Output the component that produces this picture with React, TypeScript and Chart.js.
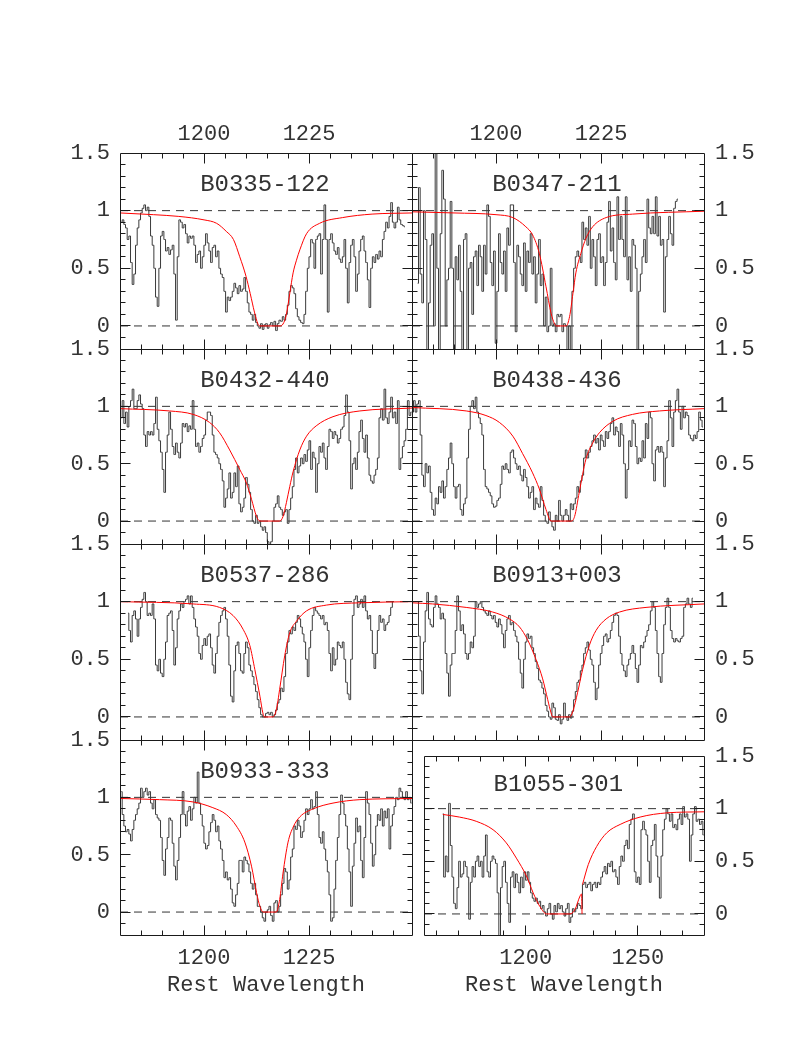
import React, { useEffect, useRef } from 'react';
import { Chart, registerables } from 'chart.js';

Chart.register(...registerables);

// ---------------- styling constants ----------------
const FONT = '"Liberation Mono", "DejaVu Sans Mono", monospace';
const TEXT_COLOR = '#333333';
const FRAME_COLOR = '#1a1a1a';
const SPEC_COLOR = '#3a3a3a';
const FIT_COLOR = '#ff0000';
const DASH_COLOR = '#333333';
const M = 75; // margin around each plot frame inside its canvas

// ---------------- axes ----------------
const Y_RANGE = [-0.2, 1.5];
const Y_LABELS = [0, 0.5, 1, 1.5];
const X_RANGE_NARROW = [1180, 1249.5];
const X_RANGE_WIDE = [1154.6, 1279.5];
const X_LABELS_NARROW = [1200, 1225];
const X_LABELS_WIDE = [1200, 1250];
const REF_LEVELS = [0, 1];
const X_TITLE = 'Rest Wavelength';
const TITLE_X = 1214.5;
const TITLE_Y = 1.17;

// ---------------- names ----------------
const NAMES = ['B0335-122', 'B0347-211', 'B0432-440', 'B0438-436', 'B0537-286', 'B0913+003', 'B0933-333', 'B1055-301'];

// ---------------- spectra (normalised flux on a uniform wavelength grid) ----------------
const S1_START = 1180.32, S1_STEP = 0.397;
const S1_FLUX = [
  0.9, 0.92, 0.88, 0.85, 0.75, 0.78, 0.55, 0.36, 0.45, 0.7,
  0.85, 0.92, 0.98, 1.02, 1.05, 1.0, 1.03, 0.95, 0.78, 0.7,
  0.5, 0.25, 0.17, 0.5, 0.78, 0.82, 0.75, 0.65, 0.68, 0.62,
  0.66, 0.7, 0.45, 0.05, 0.6, 0.92, 0.9, 0.85, 0.88, 0.8,
  0.72, 0.78, 0.76, 0.78, 0.7, 0.55, 0.62, 0.65, 0.5, 0.6,
  0.7, 0.8, 0.72, 0.65, 0.55, 0.68, 0.7, 0.6, 0.65, 0.5,
  0.45, 0.42, 0.3, 0.12, 0.25, 0.22, 0.25, 0.3, 0.37, 0.33,
  0.28, 0.35, 0.3, 0.32, 0.42, 0.3, 0.2, 0.12, 0.1, 0.05,
  0.1, 0.03, 0.0, -0.02, 0.02, -0.03, 0.01, 0.02, -0.02, 0.01,
  0.03, 0.0, 0.04, -0.04, 0.02, 0.05, 0.04, 0.08, 0.05, 0.1,
  0.18, 0.3, 0.35, 0.33, 0.28, 0.15, 0.08, 0.05, 0.03, 0.02,
  0.1, 0.3, 0.5, 0.6, 0.75, 0.72, 0.5, 0.75, 0.78, 0.8,
  0.45, 0.75, 1.05, 0.75, 0.12, 0.75, 0.8, 0.72, 0.65, 0.62,
  0.68, 0.58, 0.55, 0.6, 0.75, 0.5, 0.2, 0.55, 0.7, 0.75,
  0.6, 0.3, 0.45, 0.65, 0.75, 0.78, 0.65, 0.55, 0.4, 0.16,
  0.5, 0.6, 0.55, 0.62, 0.58, 0.65, 0.6, 0.75, 0.82, 0.9,
  0.85, 0.95, 1.07, 0.9, 0.85, 0.9, 1.03, 0.92, 0.88, 0.87,
  0.86,
];
const S2_START = 1181.35, S2_STEP = 0.397;
const S2_FLUX = [
  0.37, 1.2, 0.45, 0.2, 1.0, 0.75, -0.25, 0.2, 0.7, 0.8,
  0.0, 1.6, 0.5, -0.25, 0.8, 1.35, 1.1, 0.0, 0.4, 0.5,
  1.08, 0.5, -0.25, 0.6, 0.4, 0.7, 0.3, -0.25, 0.75, 0.8,
  -0.25, 0.5, 0.55, 0.1, 0.6, 0.65, 0.35, 0.7, 0.6, 0.3,
  0.7, 0.45, 1.05, 0.95, 0.55, 0.35, 0.65, -0.15, 0.3, 0.8,
  0.55, 0.45, 0.65, 0.3, 0.85, 0.7, 1.05, 1.05, 0.55, -0.05,
  0.7, 0.6, 0.45, 0.35, 0.72, 0.3, 0.65, 0.55, 0.8, 0.45,
  0.6, 0.2, 0.45, 0.75, 0.35, 0.45, 0.0, 0.25, -0.05, 0.0,
  0.5, 0.0, 0.02, -0.05, 0.1, 0.08, 0.1, -0.05, 0.02, 0.0,
  -0.25, 0.0, -0.25, 0.3, 0.5, 0.6, 0.65, 0.6, 0.55, 0.9,
  0.75, 0.85, 0.7, 0.95, 0.5, 0.75, 0.6, 0.35, 0.75, 0.8,
  0.55, 0.6, 0.35, 0.55, 0.9, 1.08, 0.65, 0.85, 0.55, 0.4,
  1.12, 0.75, 0.95, 0.75, 0.6, 1.12, 0.4, 0.6, 0.3, 0.75,
  0.7, 0.5, -0.25, 0.3, 0.45, 0.6, 0.75, 0.55, 1.1, 0.85,
  0.8, 0.95, 0.8, 1.12, 0.78, 0.95, 0.7, 0.75, 0.12, 0.6,
  0.75, 0.95, 0.8, 0.7, 1.02, 1.08, 1.1,
];
const S3_START = 1180.32, S3_STEP = 0.397;
const S3_FLUX = [
  0.9, 1.05, 0.85, 0.95, 0.82, 1.0, 1.05, 1.15, 0.98, 0.98,
  1.05, 1.1, 1.02, 0.98, 0.75, 0.65, 0.78, 0.75, 0.78, 0.75,
  0.85, 1.08, 0.8, 0.7, 0.6, 0.45, 0.25, 0.6, 0.75, 0.95,
  0.8, 0.65, 0.58, 0.68, 0.6, 0.55, 0.68, 0.85, 0.82, 0.85,
  0.78, 0.83, 0.8, 1.05, 0.8, 0.65, 0.68, 0.6, 0.65, 0.72,
  0.75, 0.88, 0.95, 0.95, 0.92, 0.75, 0.6, 0.58, 0.55, 0.5,
  0.45, 0.35, 0.12, 0.2, 0.28, 0.42, 0.2, 0.25, 0.42, 0.3,
  0.48, 0.15, 0.08, 0.12, 0.2, 0.38, 0.32, 0.25, 0.1, 0.0,
  -0.02, 0.05, -0.02, 0.0, -0.05, -0.08, -0.05, -0.1, -0.18, -0.25,
  -0.18, 0.0, 0.12, 0.15, 0.22, 0.12, 0.1, 0.05, 0.08, 0.1,
  -0.02, 0.1, 0.2, 0.3, 0.45, 0.55, 0.42, 0.48, 0.55, 0.5,
  0.58, 0.52, 0.62, 0.7, 0.45, 0.6, 0.55, 0.25, 0.5, 0.65,
  0.6, 0.68, 0.55, 0.45, 0.65, 0.8, 0.78, 0.72, 0.78, 0.75,
  0.68, 0.72, 0.8, 0.82, 0.92, 1.1, 0.95, 0.7, 0.28, 0.5,
  0.55, 0.45, 0.6, 0.78, 0.88, 0.72, 0.6, 0.75, 0.55, 0.4,
  0.35, 0.33, 0.4, 0.45, 0.55, 0.9, 0.98, 0.88, 1.15, 0.9,
  0.85, 0.95, 1.08, 0.9, 0.95, 0.85, 1.05, 0.45, 0.55, 0.65,
  0.7, 0.8, 1.05, 0.92, 0.95,
];
const S4_START = 1180.16, S4_STEP = 0.397;
const S4_FLUX = [
  0.95, 1.05, 0.95, 1.02, 1.05, 0.75, 0.4, 0.3, 0.5, 0.42,
  0.48, 0.25, 0.1, 0.05, 0.2, 0.15, 0.3, 0.25, 0.35, 0.2,
  0.3, 0.45, 0.55, 0.68, 0.5, 0.3, 0.2, 0.3, 0.32, 0.1,
  0.05, 0.15, 0.2, 0.55, 0.8, 1.0, 1.05, 0.98, 1.08, 0.95,
  0.9, 0.85, 0.75, 0.45, 0.3, 0.28, 0.25, 0.22, 0.15, 0.12,
  0.13, 0.18, 0.2, 0.32, 0.48, 0.45, 0.5, 0.45, 0.42, 0.6,
  0.62, 0.55, 0.5, 0.45, 0.48, 0.4, 0.35, 0.45, 0.38, 0.3,
  0.2, 0.25, 0.3, 0.1, 0.2, 0.15, 0.12, 0.3, 0.18, 0.05,
  0.0, -0.02, 0.08, 0.0, -0.05, -0.08, 0.05, 0.0, 0.18, 0.05,
  0.0, 0.05, 0.1, 0.05, 0.0, 0.15, 0.1, 0.15, 0.2, 0.3,
  0.25, 0.35, 0.4, 0.55, 0.62, 0.55, 0.6, 0.65, 0.7, 0.75,
  0.68, 0.72, 0.62, 0.75, 0.7, 0.65, 0.78, 0.72, 0.78, 0.85,
  0.9, 0.75, 0.82, 0.78, 0.65, 0.85, 0.75, 0.5, 0.2, 0.45,
  0.7, 0.65, 0.88, 0.85, 0.65, 0.5, 0.55, 0.52, 0.7, 0.55,
  0.85, 0.72, 0.95, 0.9, 0.5, 0.35, 0.62, 0.65, 0.6, 0.65,
  0.6, 0.3, 0.55, 0.7, 1.05, 0.9, 0.65, 0.95, 1.05, 1.15,
  0.95, 0.8, 1.0, 0.9, 0.95, 0.92, 0.75, 0.72, 0.7, 0.75,
  0.72, 0.78, 0.95, 0.88, 0.82,
];
const S5_START = 1181.9, S5_STEP = 0.397;
const S5_FLUX = [
  0.9, 0.75, 0.65, 0.88, 0.92, 0.85, 0.7, 0.85, 0.95, 1.02,
  1.08, 1.0, 0.88, 0.9, 0.88, 0.98, 0.85, 0.45, 0.4, 0.5,
  0.38, 0.35, 0.5, 0.65, 0.88, 0.9, 0.92, 0.75, 0.45, 0.6,
  0.85, 0.92, 0.98, 0.95, 1.0, 1.02, 1.05, 0.98, 1.05, 0.95,
  0.85, 0.78, 0.7, 0.55, 0.5, 0.62, 0.68, 0.62, 0.7, 0.72,
  0.6, 0.45, 0.38, 0.55, 0.7, 0.82, 0.88, 0.92, 0.95, 0.85,
  0.7, 0.45, 0.18, 0.13, 0.4, 0.62, 0.65, 0.55, 0.4, 0.38,
  0.55, 0.65, 0.6, 0.45, 0.4, 0.35, 0.28, 0.22, 0.15, 0.08,
  0.02, 0.0, 0.0, 0.03, 0.04, 0.02, 0.04, 0.0, 0.02, 0.06,
  0.12, 0.15, 0.25, 0.22, 0.35, 0.55, 0.65, 0.75, 0.72, 0.78,
  0.75, 0.82, 0.88, 0.85, 0.78, 0.72, 0.65, 0.5, 0.35, 0.6,
  0.75, 0.88, 0.95, 0.92, 0.9, 0.88, 0.85, 0.88, 0.8, 0.82,
  0.75, 0.55, 0.4, 0.6, 0.45, 0.5, 0.65, 0.62, 0.6, 0.65,
  0.5, 0.3, 0.2, 0.15, 0.5, 0.88, 1.02, 1.05, 0.95, 0.98,
  1.02, 0.95, 1.05, 0.92, 0.85, 0.88, 0.75, 0.55, 0.42, 0.55,
  0.75, 0.88, 0.82, 0.85, 0.75, 0.8, 0.82, 0.88, 0.95, 1.0,
];
const S6_START = 1181.35, S6_STEP = 0.397;
const S6_FLUX = [
  1.0, 0.7, 0.4, 0.2, 0.65, 0.92, 1.08, 0.85, 0.8, 0.78,
  0.95, 1.05, 0.98, 0.95, 0.85, 0.9, 0.85, 0.55, 0.38, 0.18,
  0.45, 0.55, 0.55, 0.75, 1.05, 0.92, 0.75, 0.8, 0.72, 0.55,
  0.5, 0.55, 0.65, 0.6, 0.7, 1.0, 0.95, 0.98, 1.0, 0.95,
  0.92, 0.9, 0.88, 0.92, 0.88, 0.85, 0.88, 0.82, 0.78, 0.85,
  0.8, 0.72, 0.6, 0.75, 0.85, 0.88, 0.8, 0.82, 0.75, 0.7,
  0.65, 0.5, 0.38, 0.25, 0.5, 0.65, 0.72, 0.68, 0.7, 0.6,
  0.55, 0.48, 0.42, 0.32, 0.3, 0.25, 0.2, 0.1, 0.05, 0.0,
  -0.02, 0.12, 0.08, -0.02, -0.03, 0.02, -0.06, -0.02, 0.12, 0.0,
  -0.03, 0.02, -0.01, 0.05, 0.15, 0.22, 0.3, 0.32, 0.4, 0.45,
  0.55, 0.6, 0.65, 0.58, 0.5, 0.45, 0.3, 0.15, 0.25, 0.45,
  0.55, 0.62, 0.7, 0.72, 0.65, 0.68, 0.75, 0.82, 0.88, 0.9,
  0.88, 0.7, 0.55, 0.45, 0.4, 0.35, 0.45, 0.5, 0.55, 0.62,
  0.55, 0.42, 0.3, 0.45, 0.62, 0.6, 0.65, 0.7, 0.75, 0.8,
  0.92, 1.0, 0.95, 0.75, 0.55, 0.35, 0.3, 0.55, 0.8, 0.95,
  1.03, 0.95, 0.75, 0.68, 0.65, 0.68, 0.66, 0.65, 0.68, 0.7,
  0.95, 0.98, 1.03, 0.98, 0.95, 1.03,
];
const S7_START = 1180.32, S7_STEP = 0.397;
const S7_FLUX = [
  1.05, 0.85, 0.75, 0.7, 0.72, 0.68, 0.62, 0.72, 0.8, 0.85,
  0.9, 0.95, 1.08, 1.0, 1.05, 1.08, 1.02, 1.05, 0.95, 0.9,
  0.98, 0.85, 0.82, 0.8, 0.65, 0.45, 0.32, 0.55, 0.65, 0.82,
  0.8, 0.6, 0.4, 0.28, 0.45, 0.65, 0.85, 1.05, 0.85, 0.75,
  0.88, 0.92, 0.8, 0.9, 1.0, 0.95, 1.22, 0.95, 0.85, 0.75,
  0.6, 0.55, 0.58, 0.7, 0.78, 0.85, 0.8, 0.7, 0.75, 0.62,
  0.55, 0.45, 0.3, 0.35, 0.28, 0.3, 0.2, 0.08, 0.05, 0.15,
  0.25, 0.45, 0.45, 0.35, 0.48, 0.45, 0.42, 0.35, 0.25, 0.2,
  0.25, 0.15, 0.05, 0.05, 0.0, -0.05, -0.08, 0.0, 0.02, 0.05,
  -0.03, -0.08, 0.08, 0.1, 0.0, 0.05, 0.15, 0.25, 0.38, 0.35,
  0.2, 0.28, 0.48, 0.55, 0.75, 0.72, 0.8, 0.75, 0.65, 0.7,
  0.8, 0.9, 0.85, 0.9, 0.98, 0.9, 0.92, 1.05, 0.85, 0.65,
  0.6, 0.7, 0.55, 0.45, 0.35, 0.15, -0.08, -0.05, 0.2, 0.45,
  0.65, 0.85, 1.02, 0.95, 0.85, 0.75, 0.55, 0.35, 0.05, 0.4,
  0.6, 0.82, 0.7, 0.75, 0.45, 0.3, 0.65, 1.05, 0.95, 0.85,
  0.6, 0.4, 0.5, 0.75, 0.85, 0.8, 0.9, 0.75, 0.88, 0.82,
  0.9, 0.55, 0.75, 0.85, 0.92, 1.0, 0.98, 1.08, 1.05, 1.0,
  0.98, 1.05, 0.98, 1.0, 0.95,
];
const S8_START = 1162.99, S8_STEP = 0.746;
const S8_FLUX = [
  0.95, 0.35, 0.55, 0.4, 1.05, 0.65, 0.35, 0.1, 0.05, 0.25,
  0.5, 0.35, 0.38, 0.5, 0.45, 0.35, -0.05, 0.3, 0.45, 0.35,
  0.5, 0.55, 0.45, 0.5, 0.35, 0.55, 0.75, 0.4, 0.35, 0.5,
  0.55, 0.52, 0.48, 0.2, -0.25, 0.25, 0.45, 0.5, 0.3, 0.1,
  -0.08, 0.35, 0.4, 0.25, 0.38, 0.3, 0.2, 0.35, 0.25, 0.4,
  0.32, 0.4, 0.3, 0.2, 0.15, 0.12, 0.15, 0.1, 0.12, 0.05,
  0.08, 0.02, -0.02, 0.05, 0.1, 0.0, -0.05, 0.08, 0.02, 0.1,
  0.05, 0.08, 0.02, -0.02, 0.05, 0.1, -0.08, -0.03, 0.05, 0.02,
  0.05, 0.1, 0.08, 0.05, 0.28, 0.3, 0.25, 0.28, 0.3, 0.22,
  0.28, 0.3, 0.25, 0.3, 0.28, 0.35, 0.4, 0.45, 0.38, 0.48,
  0.45, 0.5, 0.4, 0.42, 0.35, 0.28, 0.45, 0.55, 0.5, 0.65,
  0.7, 0.62, 0.85, 0.9, 0.95, 0.4, 0.3, 0.35, 0.28, 0.8,
  0.88, 0.8, 0.75, 0.5, 0.3, 0.65, 0.7, 0.85, 0.55, 0.35,
  0.15, 0.55, 0.8, 0.9, 1.0, 0.95, 0.88, 0.95, 0.82, 0.85,
  0.8, 0.9, 0.95, 0.85, 1.02, 0.92, 0.95, 0.9, 0.5, 0.75,
  0.95, 1.02, 0.88, 0.9, 0.85, 0.88, 0.75,
];

// ---------------- damped Lyman-alpha fits, read as [wavelength, flux] ----------------
const FIT1 = [[1180, 0.98], [1188, 0.965], [1194, 0.95], [1200, 0.92], [1203, 0.89], [1205.3, 0.82], [1207, 0.75], [1208.5, 0.6], [1210, 0.43], [1211, 0.28], [1212, 0.12], [1212.8, 0.02], [1213.3, 0], [1218.2, 0], [1219, 0.03], [1219.6, 0.1], [1220.4, 0.28], [1221.2, 0.46], [1222, 0.57], [1222.8, 0.66], [1224.4, 0.8], [1227.5, 0.89], [1233, 0.94], [1240, 0.97], [1249.5, 0.98]];
const FIT2 = [[1180, 0.99], [1190, 0.98], [1200, 0.965], [1204, 0.94], [1207.1, 0.86], [1208.7, 0.79], [1210.3, 0.63], [1211.9, 0.34], [1213.1, 0.11], [1213.9, 0.02], [1214.3, 0], [1216.7, 0], [1217.5, 0.08], [1218.3, 0.28], [1219, 0.46], [1220.2, 0.63], [1221.4, 0.76], [1223, 0.86], [1226.2, 0.94], [1232.5, 0.97], [1249.5, 0.995]];
const FIT3 = [[1180, 0.98], [1191.8, 0.96], [1197.4, 0.93], [1201.3, 0.86], [1203.7, 0.77], [1206.1, 0.62], [1208.5, 0.45], [1210.1, 0.33], [1211.3, 0.19], [1212.5, 0.04], [1213.3, 0], [1218, 0], [1218.8, 0.04], [1219.6, 0.16], [1220.4, 0.3], [1221.2, 0.43], [1222.8, 0.62], [1224.4, 0.74], [1226.7, 0.83], [1230.7, 0.91], [1237.1, 0.96], [1249.5, 0.985]];
const FIT4 = [[1180, 0.99], [1192.9, 0.96], [1197.6, 0.92], [1200.8, 0.86], [1204, 0.74], [1206.3, 0.59], [1208.7, 0.42], [1210.3, 0.28], [1211.9, 0.1], [1213.1, 0], [1217.9, 0], [1218.7, 0.04], [1219.8, 0.25], [1221.4, 0.54], [1223, 0.68], [1224.6, 0.77], [1227.8, 0.87], [1232.5, 0.93], [1238.9, 0.96], [1249.5, 0.98]];
const FIT5 = [[1180, 1.0], [1197.4, 0.98], [1203.7, 0.95], [1206.9, 0.88], [1209.3, 0.76], [1210.9, 0.62], [1212.1, 0.41], [1213.3, 0.18], [1214, 0.035], [1214.4, 0], [1216.4, 0], [1217.2, 0.06], [1218, 0.24], [1219.2, 0.53], [1220.4, 0.73], [1222, 0.83], [1224.4, 0.92], [1229.1, 0.97], [1237.1, 0.99], [1249.5, 1.0]];
const FIT6 = [[1180, 0.99], [1184.9, 0.98], [1192.9, 0.95], [1199.2, 0.91], [1203.2, 0.85], [1205.6, 0.78], [1207.5, 0.67], [1209.5, 0.5], [1211.1, 0.33], [1212.3, 0.15], [1213.1, 0.035], [1213.5, 0], [1217.5, 0], [1218.3, 0.05], [1219.4, 0.21], [1220.6, 0.41], [1222.2, 0.62], [1223.8, 0.75], [1226.2, 0.85], [1229.4, 0.91], [1235.7, 0.95], [1249.5, 0.98]];
const FIT7 = [[1180, 0.99], [1189.4, 0.98], [1197.4, 0.96], [1202.1, 0.91], [1205.3, 0.85], [1207.7, 0.75], [1209.7, 0.61], [1211.3, 0.4], [1212.5, 0.17], [1213.3, 0.05], [1214.1, 0], [1217.2, 0], [1218, 0.11], [1218.8, 0.34], [1220, 0.61], [1221.2, 0.74], [1222.8, 0.83], [1226, 0.9], [1230.7, 0.95], [1237.1, 0.98], [1249.5, 0.99]];
const FIT8 = [[1163, 0.945], [1170.4, 0.92], [1177.9, 0.88], [1185.4, 0.8], [1191.3, 0.675], [1195.8, 0.53], [1200.3, 0.36], [1203.3, 0.2], [1206.3, 0.07], [1209.3, 0], [1219.7, 0], [1221.9, 0.04], [1224.2, 0.17], [1224.9, 0.19], [1225.1, 0], [1225.2, null], [1225.3, 0.28], [1227.9, 0.47], [1231.6, 0.64], [1236.1, 0.77], [1242.1, 0.85], [1251, 0.92], [1263, 0.96], [1279.5, 0.97]];

// ---------------- panel layout (page pixels) ----------------
type Panel = {
  name: string; start: number; step: number; flux: number[]; fit: (number | null)[][];
  left: number; top: number; width: number; height: number;
  side: 'left' | 'right'; xAxis: 'top' | 'bottom' | 'none'; wide: boolean;
};

const PANELS: Panel[] = [
  { name: NAMES[0], start: S1_START, step: S1_STEP, flux: S1_FLUX, fit: FIT1, left: 120, top: 153, width: 292, height: 196, side: 'left', xAxis: 'top', wide: false },
  { name: NAMES[1], start: S2_START, step: S2_STEP, flux: S2_FLUX, fit: FIT2, left: 412, top: 153, width: 292, height: 196, side: 'right', xAxis: 'top', wide: false },
  { name: NAMES[2], start: S3_START, step: S3_STEP, flux: S3_FLUX, fit: FIT3, left: 120, top: 349, width: 292, height: 195, side: 'left', xAxis: 'none', wide: false },
  { name: NAMES[3], start: S4_START, step: S4_STEP, flux: S4_FLUX, fit: FIT4, left: 412, top: 349, width: 292, height: 195, side: 'right', xAxis: 'none', wide: false },
  { name: NAMES[4], start: S5_START, step: S5_STEP, flux: S5_FLUX, fit: FIT5, left: 120, top: 544, width: 292, height: 196, side: 'left', xAxis: 'none', wide: false },
  { name: NAMES[5], start: S6_START, step: S6_STEP, flux: S6_FLUX, fit: FIT6, left: 412, top: 544, width: 292, height: 196, side: 'right', xAxis: 'none', wide: false },
  { name: NAMES[6], start: S7_START, step: S7_STEP, flux: S7_FLUX, fit: FIT7, left: 120, top: 740, width: 292, height: 195, side: 'left', xAxis: 'bottom', wide: false },
  { name: NAMES[7], start: S8_START, step: S8_STEP, flux: S8_FLUX, fit: FIT8, left: 424, top: 756, width: 280, height: 179, side: 'right', xAxis: 'bottom', wide: true },
];

function makeFramePlugin(p: Panel) {
  return {
    id: 'frameTicks',
    afterDatasetsDraw(chart: any) {
      const { ctx, chartArea: a } = chart;
      const xs = chart.scales.x;
      const ys = chart.scales.y;
      const snap = (v: number) => Math.floor(v) + 0.5;
      const L = snap(a.left), R = snap(a.right), T = snap(a.top), B = snap(a.bottom);
      ctx.save();
      ctx.strokeStyle = FRAME_COLOR;
      ctx.lineWidth = 1;
      ctx.setLineDash([]);
      ctx.beginPath();
      ctx.rect(L, T, R - L, B - T);
      const minor = p.wide ? 10 : 5;
      const major = p.wide ? 50 : 25;
      for (let k = Math.ceil(xs.min / minor); k * minor <= xs.max; k++) {
        const v = k * minor;
        const px = snap(xs.getPixelForValue(v));
        if (px <= L + 0.1 || px >= R - 0.1) continue;
        const len = v % major === 0 ? 10 : 5;
        ctx.moveTo(px, T); ctx.lineTo(px, T + len);
        ctx.moveTo(px, B); ctx.lineTo(px, B - len);
      }
      for (let k = -1; k <= 14; k++) {
        const py = snap(ys.getPixelForValue(k / 10));
        const len = k % 5 === 0 ? 10 : 5;
        ctx.moveTo(L, py); ctx.lineTo(L + len, py);
        ctx.moveTo(R, py); ctx.lineTo(R - len, py);
      }
      ctx.stroke();
      ctx.font = `24px ${FONT}`;
      ctx.fillStyle = TEXT_COLOR;
      ctx.textAlign = 'center';
      ctx.textBaseline = 'alphabetic';
      ctx.fillText(p.name, xs.getPixelForValue(TITLE_X), ys.getPixelForValue(TITLE_Y));
      ctx.restore();
    },
  };
}

function PanelChart({ p }: { p: Panel }) {
  const ref = useRef<HTMLCanvasElement | null>(null);
  const cw = p.width + 2 * M;
  const chh = p.height + 2 * M;

  useEffect(() => {
    if (!ref.current) return;
    const xr = p.wide ? X_RANGE_WIDE : X_RANGE_NARROW;
    const xl = p.wide ? X_LABELS_WIDE : X_LABELS_NARROW;
    const spec = p.flux.map((f, i) => ({ x: p.start + i * p.step, y: f }));
    const fit = p.fit.map(([x, y]) => ({ x, y }));
    const refSets = REF_LEVELS.map((lv) => ({
      data: [{ x: xr[0], y: lv }, { x: xr[1], y: lv }],
      borderColor: DASH_COLOR,
      borderWidth: 1,
      borderDash: [8, 6],
      pointRadius: 0,
      tension: 0,
    }));
    const tickFont = { family: FONT, size: 22 };
    const showX = p.xAxis !== 'none';
    const chart = new Chart(ref.current, {
      type: 'line',
      data: {
        datasets: [
          { data: fit, borderColor: FIT_COLOR, borderWidth: 1, pointRadius: 0, cubicInterpolationMode: 'monotone', spanGaps: false },
          { data: spec, borderColor: SPEC_COLOR, borderWidth: 1, pointRadius: 0, stepped: 'middle' },
          ...refSets,
        ] as any,
      },
      options: {
        responsive: false,
        animation: false,
        devicePixelRatio: 1,
        events: [],
        layout: {
          autoPadding: false,
          padding: {
            left: p.side === 'right' ? M : 0,
            right: p.side === 'left' ? M : 0,
            top: p.xAxis === 'top' ? 0 : M,
            bottom: p.xAxis === 'bottom' ? 0 : M,
          },
        },
        plugins: { legend: { display: false }, tooltip: { enabled: false }, title: { display: false } },
        scales: {
          x: {
            type: 'linear',
            min: xr[0],
            max: xr[1],
            display: showX,
            position: p.xAxis === 'top' ? 'top' : 'bottom',
            grid: { display: false, drawTicks: false },
            border: { display: false },
            afterBuildTicks: (s: any) => { s.ticks = xl.map((v) => ({ value: v })); },
            afterFit: (s: any) => { if (showX) s.height = M; },
            ticks: {
              autoSkip: false, maxRotation: 0, minRotation: 0,
              padding: p.xAxis === 'top' ? 6 : 10,
              font: tickFont, color: TEXT_COLOR,
              callback: (v: any) => String(v),
            },
            title: {
              display: p.xAxis === 'bottom',
              text: X_TITLE,
              font: tickFont,
              color: TEXT_COLOR,
              padding: { top: 0, bottom: 12 },
            },
          },
          y: {
            type: 'linear',
            min: Y_RANGE[0],
            max: Y_RANGE[1],
            position: p.side,
            grid: { display: false, drawTicks: false },
            border: { display: false },
            afterBuildTicks: (s: any) => { s.ticks = Y_LABELS.map((v) => ({ value: v })); },
            afterFit: (s: any) => { s.width = M; },
            ticks: {
              autoSkip: false,
              padding: p.side === 'left' ? 10 : 11,
              font: tickFont, color: TEXT_COLOR,
              callback: (v: any) => String(v),
            },
          },
        },
      } as any,
      plugins: [makeFramePlugin(p)],
    });
    return () => chart.destroy();
  }, [p]);

  return (
    <canvas
      ref={ref}
      width={cw}
      height={chh}
      style={{ position: 'absolute', left: p.left - M, top: p.top - M, width: cw, height: chh }}
    />
  );
}

export default function App() {
  return (
    <div style={{ position: 'absolute', left: 0, top: 0, width: 795, height: 1059, background: '#ffffff', overflow: 'hidden' }}>
      {PANELS.map((p) => (
        <PanelChart key={p.name} p={p} />
      ))}
    </div>
  );
}
